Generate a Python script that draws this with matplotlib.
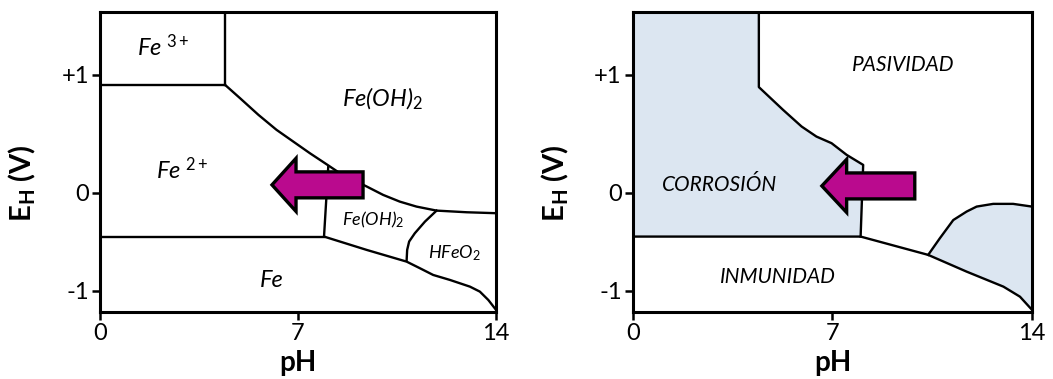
# Pourbaix diagram for iron: species (left) and corrosion zones (right)

import matplotlib
matplotlib.use("Agg")
import matplotlib.pyplot as plt
from matplotlib.patches import FancyArrow

plt.rcParams['font.family'] = ['Lato', 'DejaVu Sans']
plt.rcParams['mathtext.fontset'] = 'custom'
plt.rcParams['mathtext.rm'] = 'Lato'
plt.rcParams['mathtext.it'] = 'Lato:italic'
plt.rcParams['mathtext.bf'] = 'Lato:bold'

# ---- data (pH, E in V) ----
ph_ticks = [0, 7, 14]
e_ticks = [1.0, 0.0, -0.83]          # drawing is not linear below 0
e_tick_labels = ["+1", "0", "-1"]

# Fe3+ / Fe2+ border
fe3_h_ph = [0, 4.42]
fe3_h_e = [0.915, 0.915]
fe3_v_ph = [4.42, 4.42]
fe3_v_e = [1.53, 0.915]

# upper oxide curve
upper_ph = [4.42, 4.95, 5.60, 6.24, 6.83, 7.42, 7.95, 8.48, 8.95, 9.43,
            10.01, 10.60, 11.19, 11.90, 12.96, 14.0]
upper_e = [0.915, 0.802, 0.661, 0.534, 0.435, 0.336, 0.252, 0.167, 0.110,
           0.054, -0.017, -0.074, -0.116, -0.150, -0.164, -0.172]

# Fe2+ / Fe(OH)2 vertical
mid_v_ph = [8.07, 7.92]
mid_v_e = [0.223, -0.370]

# Fe immunity line
fe_h_ph = [0, 7.92]
fe_h_e = [-0.370, -0.370]

# lower curve
lower_ph = [7.92, 9.43, 10.84, 11.31, 11.78, 12.37, 13.08, 13.43, 13.73, 14.0]
lower_e = [-0.370, -0.483, -0.582, -0.638, -0.695, -0.737, -0.794, -0.836,
           -0.907, -0.99]

# Fe(OH)2 / HFeO2 border
hfeo2_ph = [10.84, 10.86, 10.93, 11.13, 11.49, 11.90]
hfeo2_e = [-0.575, -0.483, -0.412, -0.342, -0.243, -0.150]

# right panel
right_curve_ph = [4.42, 4.42, 5.27, 5.92, 6.44, 6.97, 7.50, 8.08, 7.99]
right_curve_e = [1.534, 0.896, 0.703, 0.562, 0.477, 0.421, 0.322, 0.237, -0.37]
right_lower_ph = [0, 7.99, 10.36, 11.71, 13.0, 13.58, 14.0]
right_lower_e = [-0.37, -0.37, -0.525, -0.667, -0.794, -0.879, -0.99]
bump_ph = [10.36, 10.77, 11.24, 11.71, 12.06, 12.64, 13.34, 14.0]
bump_e = [-0.525, -0.384, -0.23, -0.158, -0.116, -0.093, -0.093, -0.116]

# arrows: tail pH, head-base pH, tip pH, center E
arrows = [(9.30, 6.93, 6.08, 0.068), (9.89, 7.50, 6.63, 0.059)]
shaft_w = 0.22
head_w = 0.45

left_labels = [
    (2.25, 1.24, r"Fe $^{\mathit{3+}}$", 17),
    (10.0, 0.80, r"Fe(OH)$_{\mathit{2}}$", 17),
    (2.9, 0.20, r"Fe $^{\mathit{2+}}$", 17),
    (9.66, -0.23, r"Fe(OH)$_{\mathit{2}}$", 13),
    (12.55, -0.51, r"HFeO$_{\mathit{2}}$", 13),
    (6.07, -0.74, "Fe", 17),
]
right_labels = [
    (9.47, 1.085, "PASIVIDAD", 15),
    (3.05, 0.068, "CORROSIÓN", 15),
    (5.09, -0.71, "INMUNIDAD", 15),
]

arrow_color = "#BA0A8E"
fill_color = "#DCE6F1"
lw = 1.7

fig = plt.figure(figsize=(10.53, 3.79), dpi=100)
ax1 = fig.add_axes([0.095, 0.177, 0.376, 0.792])
ax2 = fig.add_axes([0.601, 0.177, 0.379, 0.792])


def style_axes(ax):
    ax.set_xlim(0, 14)
    ax.set_ylim(-1.008, 1.534)
    ax.set_xticks(ph_ticks)
    ax.set_yticks(e_ticks)
    ax.set_yticklabels(e_tick_labels)
    ax.tick_params(direction="out", length=6, width=1.8, labelsize=17, pad=2)
    for s in ax.spines.values():
        s.set_linewidth(2.2)
    ax.set_xlabel("pH", fontsize=20, fontweight="bold", va="center")
    ax.xaxis.set_label_coords(0.5, -0.17)
    ax.set_ylabel(r"$\mathbf{E}_{\mathbf{H}}$ (V)", fontsize=21,
                  fontweight="bold", va="center")
    ax.yaxis.set_label_coords(-0.195, 0.43)


def draw_arrow(ax, a):
    tail, base, tip, e = a
    arr = FancyArrow(tail, e, tip - tail, 0, width=shaft_w, head_width=head_w,
                     head_length=base - tip, length_includes_head=True,
                     facecolor=arrow_color, edgecolor="black", linewidth=2.4,
                     joinstyle="miter", zorder=5)
    ax.add_patch(arr)


# left panel
for x, y in [(fe3_h_ph, fe3_h_e), (fe3_v_ph, fe3_v_e), (upper_ph, upper_e),
             (mid_v_ph, mid_v_e), (fe_h_ph, fe_h_e), (lower_ph, lower_e),
             (hfeo2_ph, hfeo2_e)]:
    ax1.plot(x, y, color="black", lw=lw)
for x, y, t, fs in left_labels:
    ax1.text(x, y, t, fontsize=fs, style="italic", ha="center", va="center")
draw_arrow(ax1, arrows[0])
style_axes(ax1)

# right panel: corrosion zones filled
ax2.fill([0] + right_curve_ph + [0], [1.534] + right_curve_e + [-0.37],
         color=fill_color, lw=0)
k = right_lower_ph.index(10.36)
ax2.fill(bump_ph + right_lower_ph[:k - 1:-1], bump_e + right_lower_e[:k - 1:-1],
         color=fill_color, lw=0)
ax2.plot(right_curve_ph, right_curve_e, color="black", lw=lw)
ax2.plot(right_lower_ph, right_lower_e, color="black", lw=lw)
ax2.plot(bump_ph, bump_e, color="black", lw=lw)
for x, y, t, fs in right_labels:
    ax2.text(x, y, t, fontsize=fs, style="italic", ha="center", va="center")
draw_arrow(ax2, arrows[1])
style_axes(ax2)

plt.savefig("out.png", dpi=100)
